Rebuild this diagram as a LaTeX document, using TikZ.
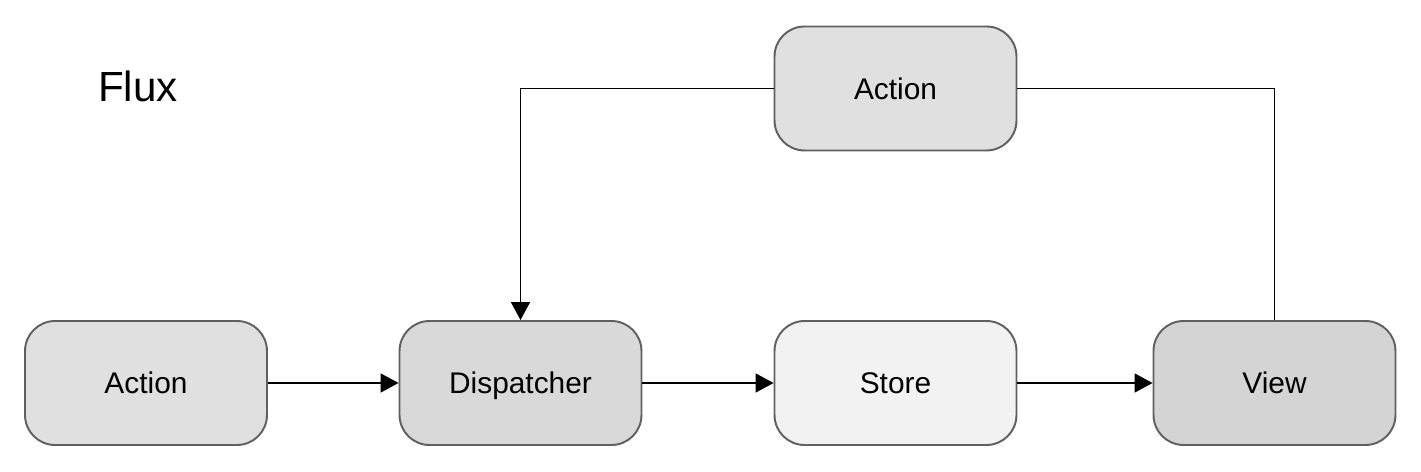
\documentclass[tikz,border=0pt]{standalone}
\usepackage{fontspec}
\setmainfont{Liberation Sans}
\usetikzlibrary{arrows.meta}
\definecolor{boxline}{RGB}{96, 96, 96}
\definecolor{actiongray}{RGB}{224, 224, 224}
\definecolor{dispgray}{RGB}{217, 217, 217}
\definecolor{storegray}{RGB}{242, 242, 242}
\definecolor{viewgray}{RGB}{212, 212, 212}

\begin{document}
\begin{tikzpicture}[x=0.02cm, y=-0.02cm,
    box/.style={draw=boxline, line width=1.1pt, rounded corners=0.6cm,
                minimum width=4.84cm, minimum height=2.48cm, text height=12.2pt, text depth=0pt,
                font=\fontsize{17}{20}\selectfont},
    flow/.style={line width=1pt, -{Triangle[length=0.36cm, width=0.38cm]}}]
                    \useasboundingbox (0,0) rectangle (1421,472);
                    \node[font=\fontsize{24}{28}\selectfont] (title) at (138,86) {Flux};
                    \node[box, fill=actiongray] (A) at (146,383) {Action};
                    \node[box, fill=dispgray] (D) at (520.5,383) {Dispatcher};
                    \node[box, fill=storegray] (S) at (895.5,383) {Store};
                    \node[box, fill=viewgray] (V) at (1274.5,383) {View};
                    \node[box, fill=actiongray] (T) at (895.5,88.5) {Action};
                    \draw[flow] (A) -- (D);
                    \draw[flow] (D) -- (S);
                    \draw[flow] (S) -- (V);
                    \draw[line width=1pt] (V.north) |- (T.east);
                    \draw[flow] (T.west) -| (D.north);
                \end{tikzpicture}
\end{document}
